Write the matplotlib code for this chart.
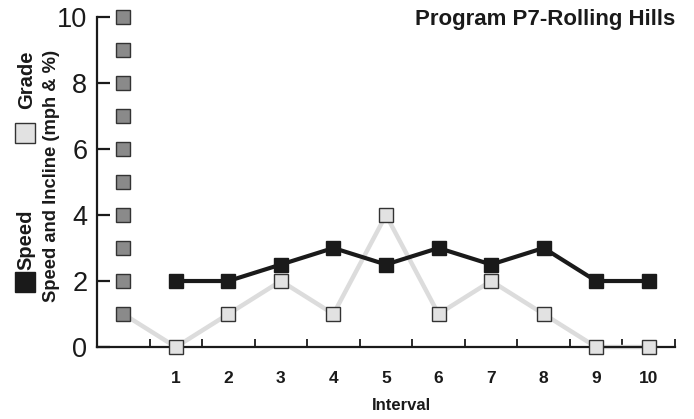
import matplotlib.pyplot as plt
from matplotlib.ticker import MultipleLocator, FixedLocator
import matplotlib.lines as mlines

plt.rcParams['font.family'] = ['Liberation Sans', 'DejaVu Sans']

# Data
intervals = [1, 2, 3, 4, 5, 6, 7, 8, 9, 10]
speed = [2, 2, 2.5, 3, 2.5, 3, 2.5, 3, 2, 2]
grade_x = [0, 1, 2, 3, 4, 5, 6, 7, 8, 9, 10]
grade = [1, 0, 1, 2, 1, 4, 1, 2, 1, 0, 0]
scale_marks = [1, 2, 3, 4, 5, 6, 7, 8, 9, 10]

fig = plt.figure(figsize=(6.94, 4.19), dpi=100)
ax = fig.add_axes([0.1398, 0.1718, 0.8328, 0.7876])

# grade line (light grey)
ax.plot(grade_x, grade, color='#dcdcdc', lw=3.2, zorder=2, clip_on=False)
ax.plot(grade_x[1:], grade[1:], ls='none', marker='s', ms=10.5, mfc='#e2e2e2',
        mec='#333333', mew=1.0, zorder=4, clip_on=False)

# speed line (black)
ax.plot(intervals, speed, color='#1a1a1a', lw=3, marker='s', ms=10.5,
        mfc='#1a1a1a', mec='#1a1a1a', zorder=3, clip_on=False)

# dark grey scale squares at x=0
ax.plot([0] * len(scale_marks), scale_marks, ls='none', marker='s', ms=10.5,
        mfc='#8a8a8a', mec='#333333', mew=1.0, zorder=5, clip_on=False)

ax.set_xlim(-0.5, 10.5)
ax.set_ylim(0, 10)

for s in ['top', 'right']:
    ax.spines[s].set_visible(False)
for s in ['left', 'bottom']:
    ax.spines[s].set_linewidth(1.6)
    ax.spines[s].set_color('#1a1a1a')

ax.yaxis.set_major_locator(MultipleLocator(2))
ax.tick_params(axis='y', direction='in', length=9.5, width=1.6, color='#1a1a1a',
               labelsize=19.5, pad=7, labelcolor='#1a1a1a')

ax.xaxis.set_major_locator(FixedLocator(intervals))
ax.xaxis.set_minor_locator(FixedLocator([i + 0.5 for i in range(11)]))
ax.tick_params(axis='x', which='major', length=0, pad=17, labelsize=12.5,
               labelcolor='#1a1a1a')
ax.tick_params(axis='x', which='minor', direction='in', length=5.5, width=1.3,
               color='#1a1a1a')
for lab in ax.get_xticklabels():
    lab.set_fontweight('bold')

ax.set_xlabel('Interval', fontsize=12, fontweight='bold', color='#1a1a1a')
ax.xaxis.set_label_coords(0.526, -0.155)
ax.xaxis.label.set_va('top')

fig.text(0.074, 0.58, 'Speed and Incline (mph & %)', rotation=90, ha='center',
         va='center', fontsize=13.2, fontweight='bold', color='#1a1a1a')

fig.text(0.9726, 1 - 25 / 419, 'Program P7-Rolling Hills', ha='right',
         va='baseline', fontsize=16, fontweight='bold', color='#1a1a1a')

# rotated legend on the left
fig.text(0.038, 1 - 240 / 419, 'Speed', rotation=90, ha='center', va='center',
         fontsize=14.5, fontweight='bold', color='#1a1a1a')
fig.text(0.038, 1 - 79.5 / 419, 'Grade', rotation=90, ha='center', va='center',
         fontsize=14.5, fontweight='bold', color='#1a1a1a')
fig.add_artist(mlines.Line2D([25 / 694], [1 - 282 / 419], marker='s', ms=14.4,
                             mfc='#1a1a1a', mec='#1a1a1a', ls='none',
                             transform=fig.transFigure))
fig.add_artist(mlines.Line2D([25 / 694], [1 - 133 / 419], marker='s', ms=14.4,
                             mfc='#e2e2e2', mec='#333333', mew=1, ls='none',
                             transform=fig.transFigure))

fig.savefig('out.png', dpi=100)
